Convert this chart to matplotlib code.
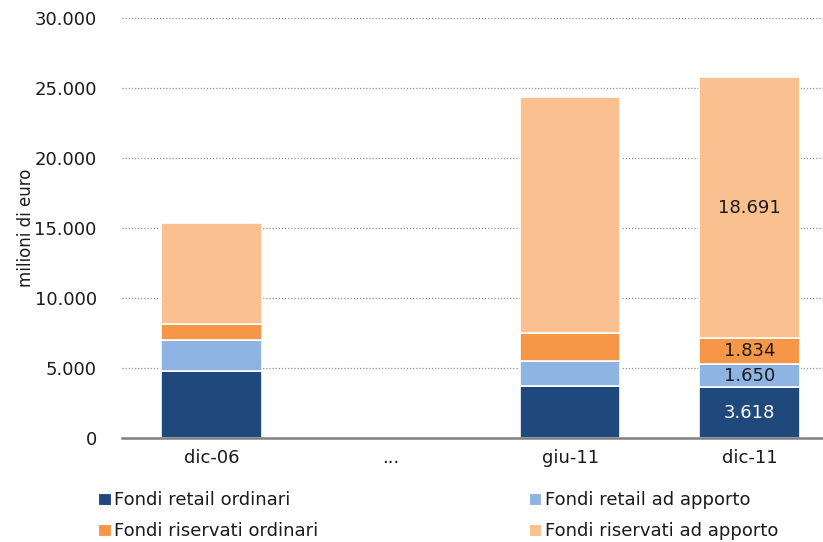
import numpy as np
import matplotlib
matplotlib.use("Agg")
import matplotlib.pyplot as plt
from matplotlib.patches import Patch

categories = ["dic-06", "...", "giu-11", "dic-11"]
retail_ordinari = [4786, None, 3714, 3618]
retail_apporto = [2214, None, 1786, 1650]
riservati_ordinari = [1140, None, 2000, 1834]
riservati_apporto = [7220, None, 16860, 18691]

series_names = ["Fondi retail ordinari", "Fondi retail ad apporto",
                "Fondi riservati ordinari", "Fondi riservati ad apporto"]
colors = ["#1f487c", "#8eb4e3", "#f79646", "#fac090"]
label_colors = ["white", "#1a1a1a", "#1a1a1a", "#1a1a1a"]
labelled_category = "dic-11"

def fmt(v):
    return f"{v:,.0f}".replace(",", ".")

fig = plt.figure(figsize=(8.23, 5.42), dpi=100)
ax = fig.add_axes([0.148, 0.192, 0.852, 0.775])

series = [retail_ordinari, retail_apporto, riservati_ordinari, riservati_apporto]
idx = [i for i, c in enumerate(categories) if series[0][i] is not None]
x = np.array(idx, dtype=float)
bottom = np.zeros(len(idx))
for s, col, lc in zip(series, colors, label_colors):
    vals = np.array([s[i] for i in idx], dtype=float)
    ax.bar(x, vals, bottom=bottom, width=0.56, color=col,
           edgecolor="white", linewidth=1.2, zorder=3)
    for xi, b, v, i in zip(x, bottom, vals, idx):
        if categories[i] == labelled_category:
            ax.text(xi, b + v / 2, fmt(v), ha="center", va="center",
                    fontsize=13, color=lc, zorder=4)
    bottom += vals

ax.set_xlim(-0.5, 3.41)
ax.set_ylim(0, 30000)
ax.set_yticks(np.arange(0, 30001, 5000))
ax.set_yticklabels([fmt(v) for v in np.arange(0, 30001, 5000)])
ax.set_xticks(range(len(categories)))
ax.set_xticklabels(categories)
ax.tick_params(axis="both", length=0, labelsize=13, colors="#1a1a1a")
ax.tick_params(axis="y", pad=18)
ax.tick_params(axis="x", pad=8)
ax.yaxis.grid(True, linestyle=(0, (1, 1.5)), color="#909090", linewidth=0.9, zorder=0)
for sp in ["top", "right", "left"]:
    ax.spines[sp].set_visible(False)
ax.spines["bottom"].set_color("#808080")
ax.spines["bottom"].set_linewidth(1.8)
ax.spines["bottom"].set_zorder(5)
ax.set_ylabel("milioni di euro", fontsize=12, color="#1a1a1a")
ax.yaxis.set_label_coords(-0.124, 0.5)

# legend filled row by row: two entries per row
order = [0, 2, 1, 3]
handles = [Patch(facecolor=colors[i], edgecolor="white", linewidth=0.8) for i in order]
labels = [series_names[i] for i in order]
fig.legend(handles, labels, ncol=2, loc="upper left",
           bbox_to_anchor=(0.108, 0.11), frameon=False, fontsize=13,
           handlelength=0.7, handleheight=0.7, handletextpad=0.2,
           columnspacing=11.65, labelspacing=0.72, borderpad=0,
           labelcolor="#1a1a1a")

fig.savefig("out.png", dpi=100)
